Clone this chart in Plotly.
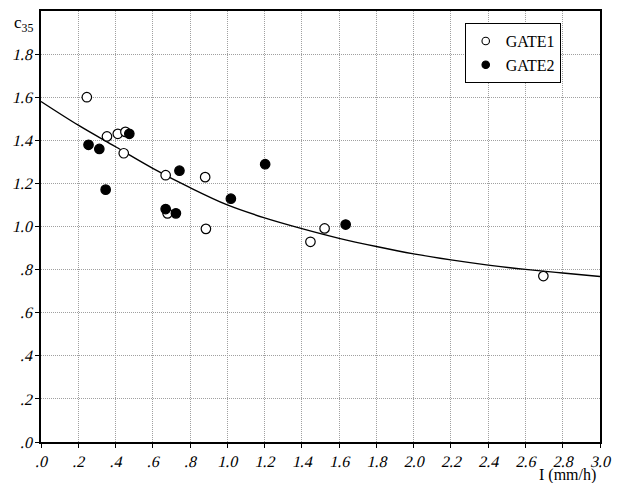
import plotly.graph_objects as go

# GATE1 (open circles)
gate1_x = [0.246, 0.354, 0.412, 0.453, 0.444, 0.669, 0.679, 0.881, 0.885, 1.446, 1.522, 2.696]
gate1_y = [1.60, 1.418, 1.43, 1.439, 1.34, 1.238, 1.061, 1.229, 0.989, 0.929, 0.991, 0.770]

# GATE2 (filled circles)
gate2_x = [0.255, 0.313, 0.347, 0.474, 0.669, 0.724, 0.743, 1.019, 1.203, 1.635]
gate2_y = [1.379, 1.36, 1.171, 1.43, 1.081, 1.061, 1.259, 1.129, 1.289, 1.009]

# fitted curve
curve_x = [0.0, 0.2, 0.4, 0.6, 0.8, 1.0, 1.2, 1.4, 1.6, 1.8, 2.0, 2.2, 2.4, 2.6, 2.8, 3.0]
curve_y = [1.580, 1.470, 1.370, 1.270, 1.180, 1.100, 1.040, 0.990, 0.945, 0.907,
           0.873, 0.845, 0.821, 0.801, 0.784, 0.768]

x_tickvals = [0.0, 0.2, 0.4, 0.6, 0.8, 1.0, 1.2, 1.4, 1.6, 1.8, 2.0, 2.2, 2.4, 2.6, 2.8, 3.0]
x_ticktext = [".0", ".2", ".4", ".6", ".8", "1.0", "1.2", "1.4", "1.6", "1.8",
              "2.0", "2.2", "2.4", "2.6", "2.8", "3.0"]
y_tickvals = [0.0, 0.2, 0.4, 0.6, 0.8, 1.0, 1.2, 1.4, 1.6, 1.8]
y_ticktext = [".0", ".2", ".4", ".6", ".8", "1.0", "1.2", "1.4", "1.6", "1.8"]

FONT = "Liberation Serif"

fig = go.Figure()
fig.add_trace(go.Scatter(x=curve_x, y=curve_y, mode="lines",
                         line=dict(color="black", width=1.4, shape="spline"),
                         showlegend=False, hoverinfo="skip"))
fig.add_trace(go.Scatter(x=gate1_x, y=gate1_y, mode="markers", name="GATE1", showlegend=False,
                         marker=dict(symbol="circle", size=9.5, color="white",
                                     line=dict(color="black", width=1.2))))
fig.add_trace(go.Scatter(x=gate2_x, y=gate2_y, mode="markers", name="GATE2", showlegend=False,
                         marker=dict(symbol="circle", size=9.5, color="black",
                                     line=dict(color="black", width=1.2))))
# legend entries (smaller symbols, as in the reference legend)
fig.add_trace(go.Scatter(x=[None], y=[None], mode="markers", name="GATE1",
                         marker=dict(symbol="circle", size=7.5, color="white",
                                     line=dict(color="black", width=1.1))))
fig.add_trace(go.Scatter(x=[None], y=[None], mode="markers", name="GATE2",
                         marker=dict(symbol="circle", size=7.5, color="black",
                                     line=dict(color="black", width=1.1))))

axis_common = dict(
    showgrid=True, gridcolor="#a0a0a0", griddash="1px,1px", gridwidth=1,
    showline=True, linecolor="black", linewidth=1.5, mirror=True,
    ticks="outside", ticklen=4, tickcolor="black", tickwidth=1,
    tickfont=dict(family=FONT, size=16, color="black"),
    zeroline=False,
)

fig.update_layout(
    width=619, height=483,
    margin=dict(l=41, r=13, t=9, b=41),
    paper_bgcolor="white", plot_bgcolor="white",
    font=dict(family=FONT, size=16, color="black"),
    xaxis=dict(range=[0, 3.0], tickvals=x_tickvals, ticktext=x_ticktext, **axis_common),
    yaxis=dict(range=[0, 2.0], tickvals=y_tickvals, ticktext=y_ticktext, **axis_common),
    legend=dict(x=0.758, y=0.972, xanchor="left", yanchor="top",
                bgcolor="white", bordercolor="black", borderwidth=1,
                font=dict(family=FONT, size=16, color="black"),
                itemsizing="trace", tracegroupgap=0),
    showlegend=True,
    annotations=[
        dict(text="c<sub>35</sub>", xref="paper", yref="y", x=0, y=1.94, xanchor="right",
             yanchor="middle", xshift=-6, showarrow=False,
             font=dict(family=FONT, size=17, color="black")),
        dict(text="I (mm/h)", xref="paper", yref="paper", x=1, y=0, xanchor="right",
             yanchor="top", xshift=-2, yshift=-22, showarrow=False,
             font=dict(family=FONT, size=16, color="black")),
    ],
)

post = """
document.body.style.margin='0';
document.querySelectorAll('.xtick text, .ytick text').forEach(function(t){
  var x = parseFloat(t.getAttribute('x')) || 0;
  var y = parseFloat(t.getAttribute('y')) || 0;
  var tr = t.getAttribute('transform') || '';
  t.setAttribute('transform', tr + ' translate(' + x + ',' + y + ') skewX(-13) translate(' + (-x) + ',' + (-y) + ')');
});
"""

fig.write_html("out.html", config={"displayModeBar": False}, post_script=post)
